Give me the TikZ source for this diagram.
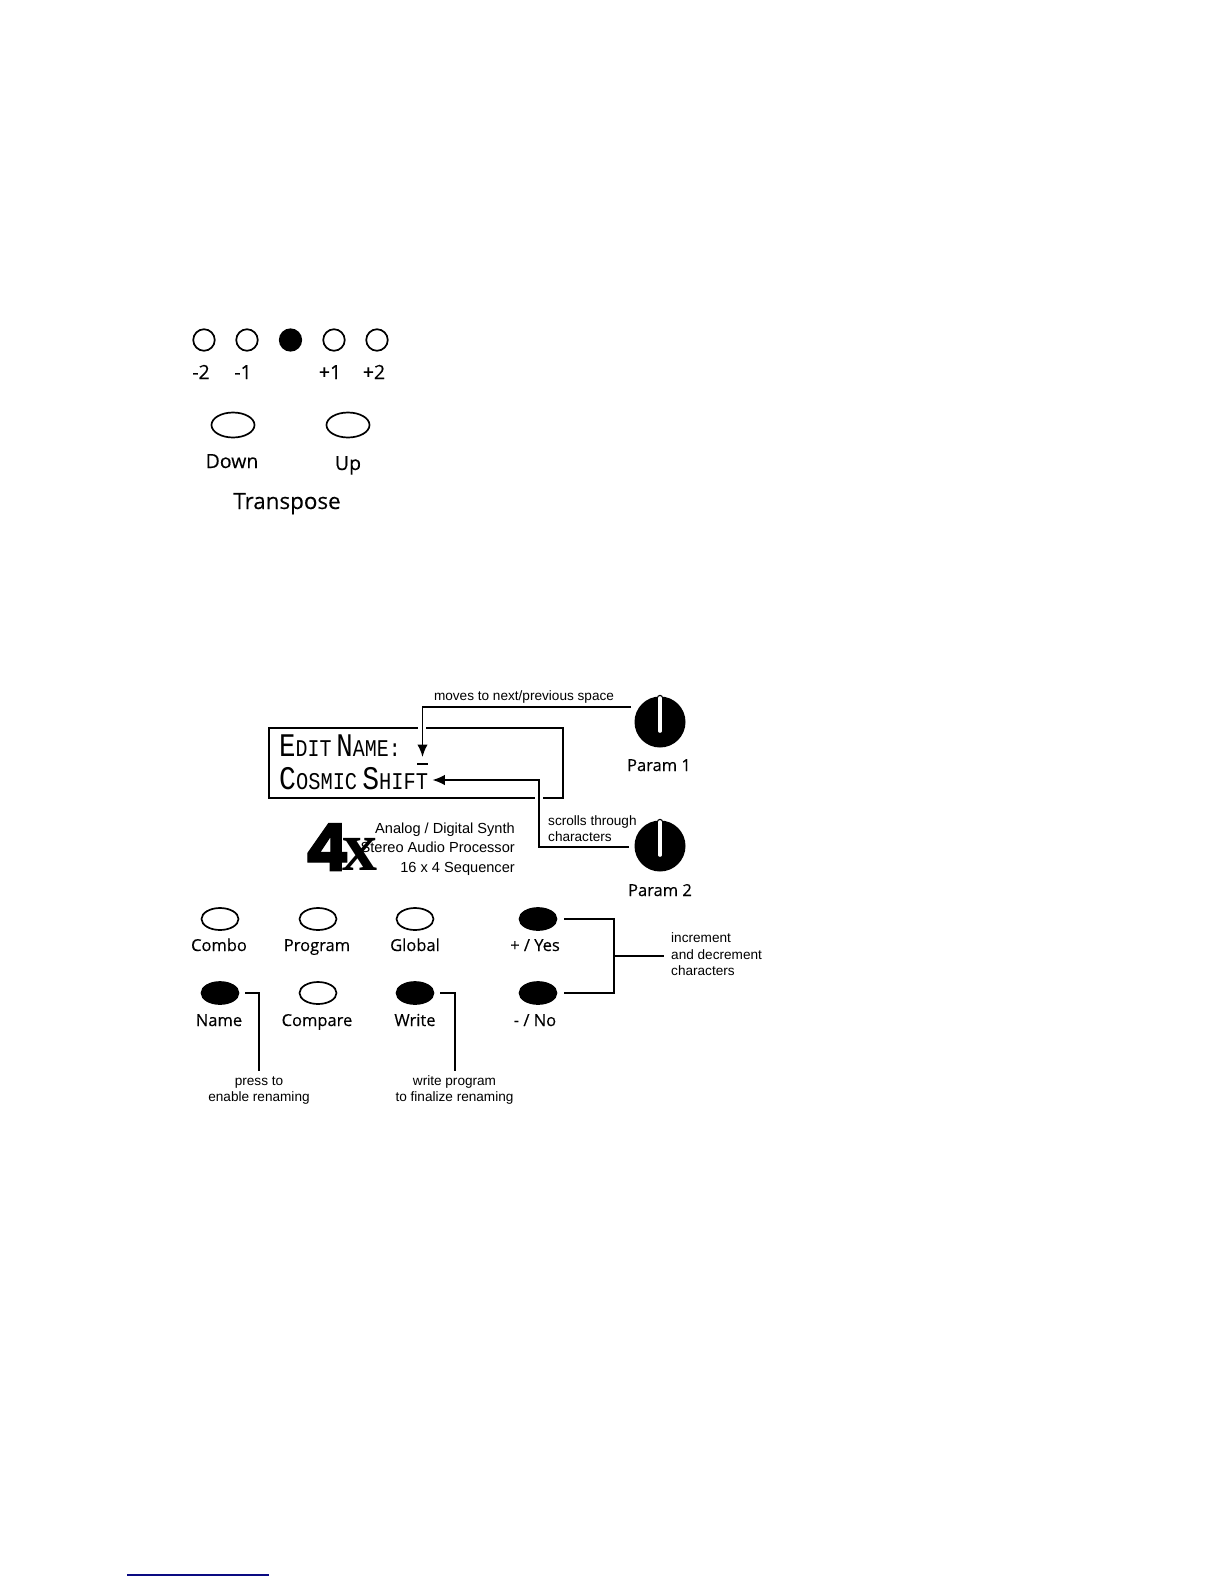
\documentclass[tikz,border=0pt]{standalone}
\usepackage{xcolor}
\usepackage{graphicx}
\usepackage{fontspec}
\setmainfont[FakeBold=0.25]{Open Sans}
\newfontfamily\helv{Liberation Sans}
\newfontfamily\lcdfont{Liberation Mono}
\newfontfamily\logofont{Liberation Serif}
\newfontfamily\logofour[BoldFeatures={FakeBold=1.5}]{Poppins}
\usetikzlibrary{shapes.geometric,arrows.meta}
\definecolor{rulenavy}{RGB}{10,10,130}
\tikzset{
  led/.style={circle,draw,line width=1.7pt,minimum size=21.5pt,inner sep=0pt},
  button/.style={ellipse,draw,line width=1.7pt,minimum width=37pt,minimum height=22pt,inner sep=0pt},
  bigbutton/.style={ellipse,draw,line width=1.7pt,minimum width=43pt,minimum height=25pt,inner sep=0pt},
  lit/.style={fill=black},
  panellabel/.style={font=\fontsize{16.5}{18}\selectfont,inner sep=0pt,text height=12pt,text depth=0pt},
  toplabel/.style={font=\fontsize{19.5}{20}\selectfont,inner sep=0pt,text height=14pt,text depth=0pt},
  note/.style={font=\helv\fontsize{13.6}{16.4}\selectfont,inner sep=0pt,align=center},
  knob/.style={circle,fill=black,minimum size=51pt,inner sep=0pt},
  wire/.style={line width=1.8pt},
  halo/.style={white,line width=7.5pt},
  pointer/.style={line width=1.8pt,-{Latex[length=12.5pt,width=10.5pt]}}
}
\newcommand{\lcdword}[2]{{\fontsize{33}{33}\selectfont #1}{\fontsize{24}{24}\selectfont #2}}
\begin{document}
\begin{tikzpicture}[x=1pt,y=-1pt]
\useasboundingbox (0,0) rectangle (1224,1584);
\fill[white] (0,0) rectangle (1224,1584);

\node[led] (ledA) at (204,340) {};
\node[led] (ledB) at (247,340) {};
\node[led,lit] (ledC) at (290.5,340) {};
\node[led] (ledD) at (334,340) {};
\node[led] (ledE) at (377,340) {};
\node[toplabel] (ledAlabel) at (201,372) {-2};
\node[toplabel] (ledBlabel) at (243,372) {-1};
\node[toplabel] (ledDlabel) at (330,372) {+1};
\node[toplabel] (ledElabel) at (374,372) {+2};
\node[bigbutton] (down) at (233,425) {};
\node[bigbutton] (up) at (348,425) {};
\node[toplabel] (downlabel) at (232,461) {Down};
\node[toplabel] (uplabel) at (348,463) {Up};
\node[toplabel,font=\fontsize{22.4}{24}\selectfont] (transpose) at (287,502) {Transpose};

\draw[line width=1.8pt] (269,728) rectangle (563,798);
\node[anchor=west,inner sep=0pt,font=\lcdfont] (lcdtop) at (279,746) {\scalebox{.83}[1]{\lcdword{E}{DIT} \lcdword{N}{AME:}}};
\node[anchor=west,inner sep=0pt,font=\lcdfont] (lcdbot) at (279,779) {\scalebox{.85}[1]{\lcdword{C}{OSMIC} \lcdword{S}{HIFT}}};
\node[fill=black,minimum width=11pt,minimum height=1.6pt,inner sep=0pt] (cursor) at (422.5,764) {};

\node[knob] (knobA) at (660,722) {};
\node[knob] (knobB) at (660,846) {};
\foreach \k in {knobA,knobB} {
  \draw[line width=6.5pt,line cap=round] ([yshift=24pt]\k.center) -- ([yshift=-9pt]\k.center);
  \draw[white,line width=3.6pt,line cap=round] ([yshift=24pt]\k.center) -- ([yshift=-9pt]\k.center);
}
\node[panellabel] (knobAlabel) at (659,765) {Param 1};
\node[panellabel] (knobBlabel) at (660,890) {Param 2};
\coordinate (tapA) at (631,707);
\coordinate (tapB) at (629,847);
\coordinate (turnB) at (539,847);

\draw[halo] (422,722) -- (422,733);
\draw[halo] (539,790) -- (539,804);
\draw[pointer] (tapA) -| ([yshift=6pt]cursor.north);
\draw[pointer] (tapB) -- (turnB) |- ([xshift=4pt,yshift=-1pt]lcdbot.east);

\node[note,anchor=center] (movesnote) at (524,697) {moves to next/previous space};
\node[note,anchor=north west,align=left] (scrollnote) at (548,815.5) {scrolls through\\characters};

\node[anchor=center,inner sep=0pt] (logo) at (341,847) {\logofour\bfseries\fontsize{66}{66}\selectfont 4\kern-7pt\logofont\bfseries\fontsize{70}{70}\selectfont x};
\node[font=\helv\fontsize{14.6}{19.6}\selectfont,align=right,anchor=east,inner sep=0pt] (logotext) at (515,849) {Analog / Digital Synth\\Stereo Audio Processor\\16 x 4 Sequencer};

\node[button] (combo) at (220,919) {};
\node[button] (program) at (318,919) {};
\node[button] (global) at (415,919) {};
\node[button,lit] (yes) at (538,919) {};
\node[button,lit] (name) at (220,993) {};
\node[button] (compare) at (318,993) {};
\node[button,lit] (write) at (415,993) {};
\node[button,lit] (no) at (538,993) {};
\node[panellabel] (combolabel) at (219,945) {Combo};
\node[panellabel] (programlabel) at (317,945) {Program};
\node[panellabel] (globallabel) at (415,945) {Global};
\node[panellabel] (yeslabel) at (535,945) {+ / Yes};
\node[panellabel] (namelabel) at (219,1020) {Name};
\node[panellabel] (comparelabel) at (317,1020) {Compare};
\node[panellabel] (writelabel) at (415,1020) {Write};
\node[panellabel] (nolabel) at (535,1020) {- / No};

\node[note,anchor=north] (pressnote) at (259,1076.5) {press to\\enable renaming};
\node[note,anchor=north] (writenote) at (454.5,1075.5) {write program\\to finalize renaming};
\node[note,anchor=west,align=left] (incnote) at (671,954.5) {increment\\and decrement\\characters};
\coordinate (forkB) at (614,956);

\draw[wire] ([xshift=6pt]name.east) -| ([yshift=5.5pt]pressnote.north);
\draw[wire] ([xshift=6pt]write.east) -| ([yshift=4.5pt,xshift=.5pt]writenote.north);
\draw[wire] ([xshift=7pt]yes.east) -| (forkB) |- ([xshift=7pt]no.east);
\draw[wire] (forkB) -- ([xshift=-7pt]incnote.west |- forkB);

\coordinate (ruleA) at (127,1575);
\coordinate (ruleB) at (269,1575);
\draw[rulenavy,line width=1.2pt] (ruleA) -- (ruleB);
\end{tikzpicture}
\end{document}
